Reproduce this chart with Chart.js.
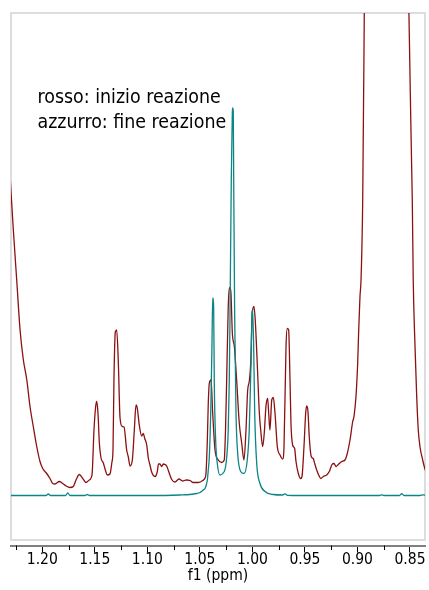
<!DOCTYPE html>
<html>
<head>
<meta charset="utf-8">
<script src="https://cdn.jsdelivr.net/npm/chart.js@4.4.1/dist/chart.umd.min.js"></script>
<style>
  html, body { margin: 0; padding: 0; background: #fff; overflow: hidden; }
  canvas { display: block; }
</style>
</head>
<body>
<canvas id="spectrum" width="429" height="590"></canvas>
<script>
const FONT = "'DejaVu Sans Condensed', 'DejaVu Sans', sans-serif";

// Chemical shift window (ppm) and axis ticks
const shiftMin = 0.8357;
const shiftMax = 1.2298;
const majorTicks = [1.20, 1.15, 1.10, 1.05, 1.00, 0.95, 0.90, 0.85];
const minorTicks = [1.225, 1.175, 1.125, 1.075, 1.025, 0.975, 0.925, 0.875];

// Intensity window (arbitrary units)
const intensityMin = -50;
const intensityMax = 482.5;

// 1H spectrum at the start of the reaction
const startShift = [
  1.2317, 1.2298, 1.2276, 1.2244, 1.2212, 1.2181, 1.2148, 1.2117, 1.2086, 1.2053,
  1.2022, 1.1996, 1.1958, 1.1927, 1.1901, 1.1879, 1.1838, 1.1806, 1.1774, 1.1736,
  1.1705, 1.1679, 1.1648, 1.1615, 1.1584, 1.1553, 1.1527, 1.1508, 1.1492, 1.1482,
  1.1470, 1.1457, 1.1441, 1.1419, 1.1400, 1.1381, 1.1356, 1.1337, 1.1327, 1.1318,
  1.1305, 1.1292, 1.1277, 1.1260, 1.1239, 1.1222, 1.1197, 1.1181, 1.1165, 1.1143,
  1.1124, 1.1108, 1.1096, 1.1077, 1.1054, 1.1039, 1.1025, 1.1006, 1.0991, 1.0975,
  1.0959, 1.0927, 1.0905, 1.0894, 1.0880, 1.0864, 1.0848, 1.0832, 1.0816, 1.0797,
  1.0768, 1.0737, 1.0699, 1.0664, 1.0629, 1.0594, 1.0563, 1.0515, 1.0473, 1.0451,
  1.0442, 1.0429, 1.0420, 1.0410, 1.0394, 1.0378, 1.0356, 1.0325, 1.0292, 1.0268,
  1.0256, 1.0245, 1.0230, 1.0213, 1.0204, 1.0191, 1.0172, 1.0150, 1.0125, 1.0102,
  1.0080, 1.0061, 1.0045, 1.0030, 1.0016, 1.0001, 0.9985, 0.9973, 0.9954, 0.9934,
  0.9921, 0.9902, 0.9887, 0.9871, 0.9855, 0.9845, 0.9833, 0.9816, 0.9801, 0.9785,
  0.9763, 0.9737, 0.9712, 0.9699, 0.9680, 0.9668, 0.9655, 0.9642, 0.9633, 0.9617,
  0.9598, 0.9585, 0.9563, 0.9540, 0.9528, 0.9509, 0.9493, 0.9483, 0.9471, 0.9459,
  0.9440, 0.9421, 0.9407, 0.9388, 0.9369, 0.9350, 0.9325, 0.9293, 0.9268, 0.9242,
  0.9223, 0.9204, 0.9183, 0.9150, 0.9119, 0.9097, 0.9071, 0.9045, 0.9033, 0.9014,
  0.8998, 0.8988, 0.8976, 0.8966, 0.8950, 0.8935, 0.8924, 0.8719, 0.8524, 0.8510,
  0.8478, 0.8469, 0.8452, 0.8436, 0.8421, 0.8405, 0.8379, 0.8364, 0.8348
];
const startIntensity = [
  338, 304, 266, 216, 166, 136, 116, 89, 69, 49,
  34, 27, 22, 17, 12, 11.5, 14, 12, 9.5, 8,
  9, 15.5, 21, 17, 13, 15.5, 20.5, 65.5, 89, 94,
  82.5, 52.5, 37.5, 32.5, 25.5, 20.5, 21.5, 33.5, 45.5, 115.5,
  163.5, 165.5, 135.5, 77.5, 69, 68.5, 45.5, 38.5, 29.5, 35.5,
  65.5, 90.5, 87.5, 70.5, 59.5, 62, 57, 50.5, 37.5, 30.5,
  23.5, 19, 24, 31.5, 31.5, 29, 31.5, 31, 29.5, 24,
  16, 13.5, 16.5, 14.5, 15.5, 15, 13, 13, 15, 17.5,
  22, 55.5, 92.5, 112.5, 115.5, 82.5, 45.5, 35.5, 33, 35.5,
  65.5, 115.5, 189, 208, 202, 162.5, 149, 115.5, 72.5, 52.5,
  35.5, 65.5, 105.5, 114, 132.5, 182.5, 189, 175.5, 132.5, 82.5,
  65.5, 49, 62.5, 89, 97, 82.5, 65.5, 95.5, 98, 82.5,
  49, 40.5, 36.5, 49, 149, 167, 165.5, 115.5, 72.5, 50.5,
  47, 34, 22, 17, 19, 49, 82, 89.5, 84, 59,
  39, 37, 32, 25.5, 20.5, 17, 19, 20.5, 24, 31,
  32, 29, 31, 34, 35.5, 42, 55.5, 74, 79, 99,
  132, 165.5, 199, 215.5, 295.5, 482.5, 645.5, 1495.5, 645.5, 482.5,
  295.5, 215.5, 149, 99, 65.5, 49, 35.5, 29, 23.5
];

// 1H spectrum at the end of the reaction
const endShift = [
  1.2317, 1.2117, 1.1965, 1.1943, 1.1922, 1.1779, 1.1758, 1.1736, 1.1594, 1.1572,
  1.1551, 1.0975, 1.0689, 1.0594, 1.0530, 1.0499, 1.0468, 1.0451, 1.0429, 1.0420,
  1.0410, 1.0397, 1.0391, 1.0385, 1.0378, 1.0369, 1.0363, 1.0350, 1.0334, 1.0309,
  1.0283, 1.0251, 1.0230, 1.0220, 1.0213, 1.0201, 1.0191, 1.0187, 1.0182, 1.0178,
  1.0169, 1.0156, 1.0140, 1.0112, 1.0080, 1.0049, 1.0030, 1.0013, 1.0004, 0.9998,
  0.9988, 0.9978, 0.9959, 0.9928, 0.9880, 0.9801, 0.9714, 0.9690, 0.9666, 0.9547,
  0.9071, 0.8790, 0.8769, 0.8748, 0.8600, 0.8579, 0.8557, 0.8405, 0.8376, 0.8348
];
const endIntensity = [
  0, 0, 0, 1.5, 0, 0, 2.5, 0, 0, 1,
  0, 0, 0.5, 1, 2, 3, 5.5, 7, 15.5, 25.5,
  39, 82, 115, 149, 197.5, 189, 115.5, 55.5, 32, 20.5,
  22, 32, 65.5, 115.5, 182, 315.5, 383.5, 387.5, 383.5, 315.5,
  182, 82, 42, 24, 22, 35.5, 65.5, 132, 182, 185.5,
  149, 82, 32, 12, 4, 1, 0.5, 1.7, 0.2, 0,
  0, 0, 0.7, 0, 0, 1.8, 0, 0, 0.7, 0
];

const seriesLabels = ['rosso: inizio reazione', 'azzurro: fine reazione'];
const axisTitle = 'f1 (ppm)';

const toPoints = (xs, ys) => xs.map((x, i) => ({ x, y: ys[i] }));

// Light frame around the plotting region, plus the short minor tick marks
const framePlugin = {
  id: 'frame',
  beforeDatasetsDraw(chart) {
    const { ctx, chartArea: a } = chart;
    ctx.save();
    ctx.strokeStyle = '#dddddd';
    ctx.lineWidth = 2;
    ctx.strokeRect(a.left, a.top, a.right - a.left, a.bottom - 5.5 - a.top);
    ctx.restore();
  },
  afterDraw(chart) {
    const { ctx, chartArea: a } = chart;
    const xs = chart.scales.x;
    ctx.save();
    ctx.strokeStyle = '#000';
    ctx.lineWidth = 1;
    minorTicks.forEach(v => {
      const px = Math.round(xs.getPixelForValue(v)) + 0.5;
      ctx.beginPath();
      ctx.moveTo(px, a.bottom);
      ctx.lineTo(px, a.bottom + 4.5);
      ctx.stroke();
    });
    ctx.restore();
  }
};

// Two-line caption naming the traces
const captionPlugin = {
  id: 'caption',
  afterDatasetsDraw(chart) {
    const { ctx, chartArea: a } = chart;
    ctx.save();
    ctx.fillStyle = '#000';
    ctx.font = '19.4px ' + FONT;
    ctx.textAlign = 'left';
    ctx.textBaseline = 'alphabetic';
    seriesLabels.forEach((t, i) => ctx.fillText(t, a.left + 26.5, a.top + 90.3 + i * 24.4));
    ctx.restore();
  }
};

new Chart(document.getElementById('spectrum'), {
  type: 'line',
  data: {
    datasets: [
      {
        label: seriesLabels[1],
        data: toPoints(endShift, endIntensity),
        borderColor: '#0b8585',
        borderWidth: 1.3,
        pointRadius: 0,
        cubicInterpolationMode: 'monotone',
        fill: false
      },
      {
        label: seriesLabels[0],
        data: toPoints(startShift, startIntensity),
        borderColor: '#8a1111',
        borderWidth: 1.3,
        pointRadius: 0,
        cubicInterpolationMode: 'monotone',
        fill: false
      }
    ]
  },
  options: {
    responsive: false,
    animation: false,
    devicePixelRatio: 1,
    layout: { padding: { left: 11, right: 4, top: 13, bottom: 0 } },
    plugins: { legend: { display: false }, tooltip: { enabled: false } },
    scales: {
      x: {
        type: 'linear',
        reverse: true,
        min: shiftMin,
        max: shiftMax,
        afterBuildTicks(scale) {
          scale.ticks = majorTicks.map(v => ({ value: v }));
        },
        afterFit(scale) { scale.height = 44.5; },
        ticks: {
          autoSkip: false,
          maxRotation: 0,
          padding: 0,
          color: '#000',
          font: { family: FONT, size: 15.5, lineHeight: 1 },
          callback: v => Number(v).toFixed(2)
        },
        grid: {
          drawOnChartArea: false,
          drawTicks: true,
          tickLength: 7,
          tickColor: '#000',
          tickWidth: 1
        },
        border: { display: true, color: '#808080', width: 2 },
        title: {
          display: true,
          text: axisTitle,
          color: '#000',
          font: { family: FONT, size: 15.5, lineHeight: 1.2 },
          padding: { top: 0, bottom: 5 }
        }
      },
      y: {
        display: false,
        min: intensityMin,
        max: intensityMax
      }
    }
  },
  plugins: [framePlugin, captionPlugin]
});
</script>
</body>
</html>
